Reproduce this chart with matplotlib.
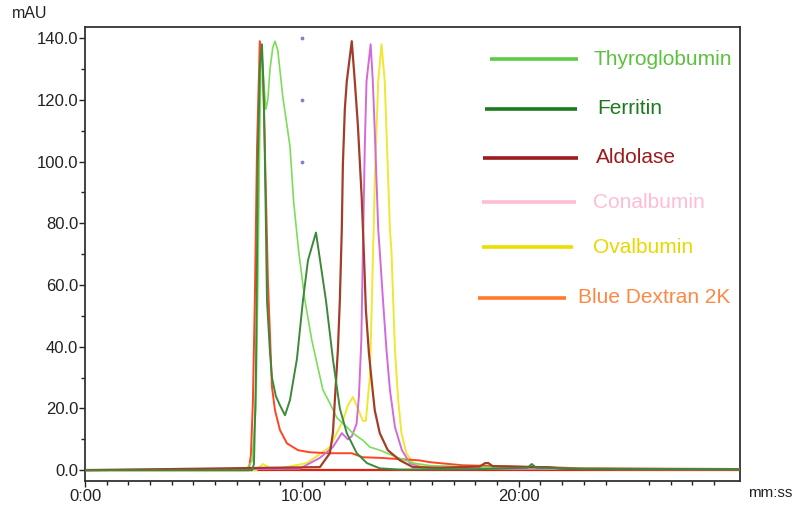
import matplotlib
matplotlib.use('Agg')
import matplotlib.pyplot as plt
from matplotlib.ticker import FixedLocator, FuncFormatter

plt.rcParams['font.family'] = ['Liberation Sans', 'DejaVu Sans']

# ---- data (time in minutes, absorbance in mAU) ----
bd_t = [0, 7.55, 7.65, 7.74, 7.83, 7.93, 8.06, 8.20, 8.29, 8.39, 8.43, 8.62, 8.76, 8.99, 9.31,
        9.82, 10.37, 11.3, 12.3, 12.8, 13.6, 14.5, 15.4, 15.9, 17.4, 19.1, 21.3, 22.8, 30.2]
bd_v = [0, 0, 5, 22, 55, 104, 139, 130, 105, 75, 62, 27, 19.4, 13, 8.7,
        6.5, 5.8, 5.5, 5.5, 4.2, 4.0, 3.6, 3.2, 2.6, 1.6, 1.3, 1.0, 0.6, 0.4]

th_t = [0, 7.28, 7.47, 7.70, 7.88, 7.97, 8.06, 8.11, 8.16, 8.25, 8.34, 8.43, 8.53, 8.66, 8.76,
        8.89, 9.12, 9.45, 9.62, 9.85, 10.14, 10.46, 10.97, 11.29, 11.61, 12.07, 12.35, 12.81,
        13.13, 13.59, 14.38, 15.12, 15.90, 18.2, 21.9, 30.2]
th_v = [0, 0, 0.5, 3, 20, 60, 110, 130, 135, 125, 117, 120, 130, 137, 139,
        136, 121, 105, 87, 71, 55, 42, 26, 21.7, 17, 14, 12, 9.7,
        7.5, 6.5, 4.2, 2.3, 1.5, 1.0, 0.5, 0.3]

fe_t = [0, 7.70, 7.79, 7.88, 7.97, 8.06, 8.16, 8.25, 8.34, 8.39, 8.53, 8.62, 8.80, 8.99, 9.22,
        9.45, 9.77, 10.05, 10.28, 10.65, 11.11, 11.43, 11.75, 12.07, 12.53, 13.00, 13.59, 14.5,
        18.0, 20.4, 20.6, 20.8, 23.0, 30.2]
fe_v = [0, 0, 2, 30, 100, 130, 138, 120, 80, 55, 38, 30, 24, 21, 17.8,
        22.7, 36, 55, 68, 77, 55, 36, 20, 12, 5.5, 2.3, 0.6, 0.2,
        0.3, 0.8, 2.0, 0.8, 0.5, 0.3]

al_t = [0, 10.83, 11.29, 11.43, 11.52, 11.66, 11.75, 11.84, 11.89, 11.98, 12.07, 12.30, 12.44,
        12.58, 12.67, 12.76, 12.86, 12.95, 13.09, 13.23, 13.36, 13.59, 13.96, 14.52, 15.12, 16.4,
        18.2, 18.45, 18.6, 18.8, 19.5, 20.5, 21.3, 22.0, 23.0, 30.2]
al_v = [0, 1, 5.5, 12, 22.7, 39, 55, 78, 99, 117, 126, 139, 126,
        112, 100, 88, 70, 52, 38, 28, 19.4, 12, 6.5, 3.2, 1.0, 0.8,
        1.2, 2.3, 2.3, 1.3, 1.2, 1.0, 1.0, 0.5, 0.3, 0.2]

co_t = [0, 9.9, 10.83, 11.43, 11.84, 12.12, 12.30, 12.52, 12.63, 12.74, 12.81, 12.90, 12.98,
        13.17, 13.27, 13.36, 13.44, 13.52, 13.59, 13.74, 13.90, 14.06, 14.29, 14.61, 14.98,
        15.44, 16.36, 30.2]
co_v = [0, 0.5, 4, 7.5, 12, 10, 11, 15, 24, 42, 70, 105, 126,
        138, 126, 110, 94, 78, 71, 55, 39, 26, 14, 6.5, 2.3,
        1.0, 0.5, 0.2]

ov_t = [0, 7.90, 8.20, 8.50, 9.0, 10.23, 11.29, 11.89, 12.12, 12.35, 12.58, 12.81, 12.95, 13.13,
        13.21, 13.28, 13.31, 13.36, 13.44, 13.52, 13.67, 13.82, 13.90, 13.98, 14.06, 14.13, 14.21,
        14.29, 14.44, 14.59, 14.82, 15.12, 15.67, 16.82, 30.2]
ov_v = [0, 0, 2, 0.8, 0.6, 2.3, 7.5, 16, 21, 23.7, 20, 16, 16, 30,
        50, 71, 78, 94, 110, 126, 138, 126, 110, 94, 78, 71, 55,
        39, 22.7, 12, 5.5, 2.3, 1.0, 0.5, 0.2]

# faint marker dots at 10:00
dot_t = [10, 10, 10]
dot_v = [140, 120, 100]

names = ['Thyroglobumin', 'Ferritin', 'Aldolase', 'Conalbumin', 'Ovalbumin', 'Blue Dextran 2K']

# ---- figure ----
fig = plt.figure(figsize=(8, 5.12), dpi=100)
ax = fig.add_axes([85/800, 1 - 481/512, 655/800, 454/512])

ax.plot(bd_t, bd_v, color='#ff4422', lw=1.4, zorder=3)
ax.plot(th_t, th_v, color='#7ddc5a', lw=1.2, zorder=4)
ax.plot(fe_t, fe_v, color='#3a8a3a', lw=1.4, zorder=5)
ax.plot(al_t, al_v, color='#a33d2a', lw=1.6, zorder=4)
ax.plot(co_t, co_v, color='#d46ad8', lw=1.4, zorder=3)
ax.plot(ov_t, ov_v, color='#eee830', lw=1.4, zorder=2)
ax.scatter(dot_t, dot_v, s=3, color='#8080cc', zorder=6)

# baseline along zero
ax.axhline(0, color='#dd2211', lw=1.6, zorder=1)

ax.set_xlim(0, 30.2)
ax.set_ylim(-3.5, 143.6)

ax.xaxis.set_major_locator(FixedLocator([0, 10, 20]))
ax.xaxis.set_minor_locator(FixedLocator([m for m in range(1, 30) if m not in (10, 20, 25)]))
ax.xaxis.set_major_formatter(FuncFormatter(lambda v, p: f'{int(v)}:00'))
ax.yaxis.set_major_locator(FixedLocator(range(0, 141, 20)))
ax.yaxis.set_minor_locator(FixedLocator(range(10, 141, 20)))
ax.yaxis.set_major_formatter(FuncFormatter(lambda v, p: f'{v:.1f}'))

ax.tick_params(which='major', direction='out', length=4, width=1.0, color='#222',
               labelsize=12, labelcolor='#222')
ax.tick_params(axis='x', which='major', pad=1.5)
ax.tick_params(axis='y', which='major', pad=1)
ax.tick_params(which='minor', direction='out', length=3, width=1.0, color='#222')
for s in ax.spines.values():
    s.set_linewidth(1.3)
    s.set_color('#333')

fig.text(12/800, 1 - 14/512, 'mAU', fontsize=11.5, color='#222', ha='left', va='center')
fig.text(748/800, 1 - 493/512, 'mm:ss', fontsize=11, color='#222', ha='left', va='center')

# hand-placed legend (line start, line end, height, text start) in axes fraction
leg_lines = ['#5ccc44', '#1c7a1c', '#9b1c1c', '#ffbcd6', '#eedd00', '#ff7a2a']
leg_text = ['#5cc040', '#1c7a1c', '#9b1c1c', '#ffbcd6', '#e8d800', '#ff8844']
leg_pos = [(0.618, 0.753, 0.9295, 0.7756),
           (0.611, 0.751, 0.8194, 0.7817),
           (0.6076, 0.7527, 0.7115, 0.7802),
           (0.6061, 0.7496, 0.6145, 0.7756),
           (0.6061, 0.745, 0.5154, 0.7756),
           (0.600, 0.7344, 0.4031, 0.7527)]
for name, lc, tc, (x0, x1, y, xt) in zip(names, leg_lines, leg_text, leg_pos):
    ax.plot([x0, x1], [y, y], transform=ax.transAxes, color=lc, lw=2.6,
            solid_capstyle='butt', zorder=7)
    ax.text(xt, y, name, transform=ax.transAxes, color=tc, fontsize=15,
            ha='left', va='center', zorder=7)

plt.savefig('out.png', dpi=100)
plt.close()
